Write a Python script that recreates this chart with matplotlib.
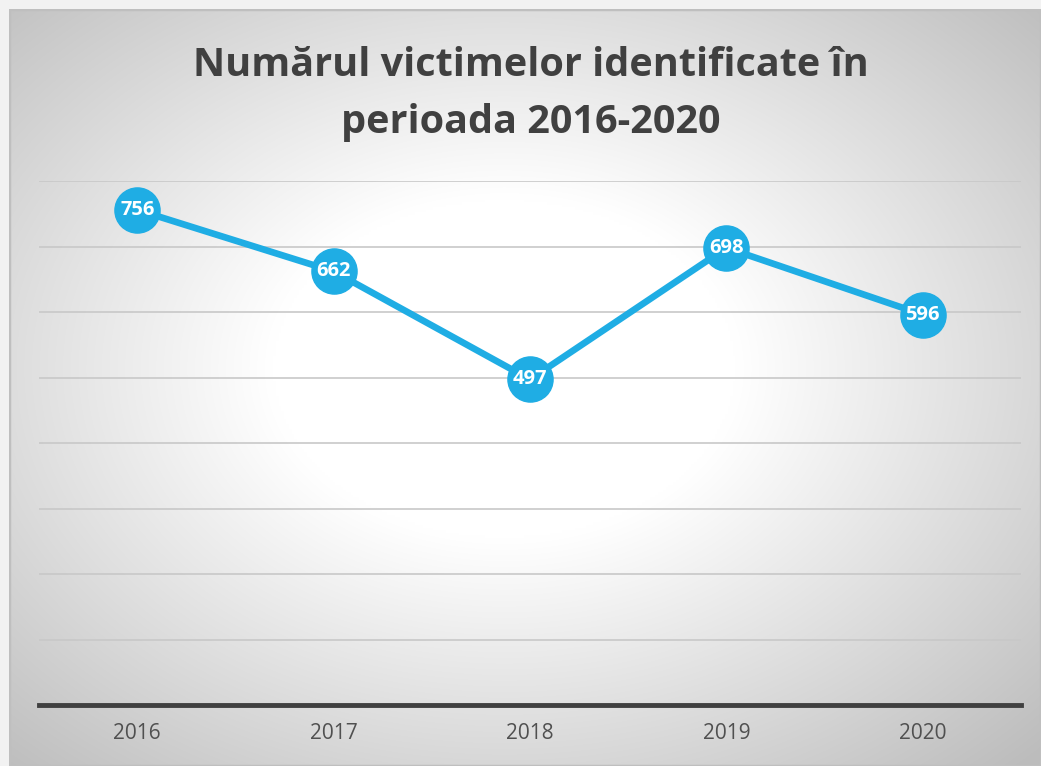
import numpy as np
from matplotlib import pyplot as plt

# data
years = ['2016', '2017', '2018', '2019', '2020']
victims = [756, 662, 497, 698, 596]
title = 'Numărul victimelor identificate în\nperioada 2016-2020'

plt.rcParams['font.family'] = ['Open Sans', 'DejaVu Sans']

fig = plt.figure(figsize=(10.41, 7.66), dpi=100)
fig.patch.set_facecolor('#f2f2f2')

# chart area with radial gradient background
W, H = 1041, 766
x0, y0 = 9, 9
bg = fig.add_axes([x0 / W, 0, (W - x0) / W, (H - y0) / H])
nx, ny = 400, 300
xx, yy = np.meshgrid(np.linspace(-1, 1, nx), np.linspace(-1, 1, ny))
r = np.sqrt(((xx + 0.04) / 1.0) ** 2 + ((yy + 0.05) / 1.0) ** 2)
r = np.clip(r, 0, 1.45)
g = np.where(r < 0.45, 1.0, 1.0 - (r - 0.45) / 1.0 * 0.26)
img = np.dstack([g, g, g])
bg.imshow(img, aspect='auto', extent=[0, 1, 0, 1], interpolation='bilinear')
bg.set_xlim(0, 1)
bg.set_ylim(0, 1)
bg.axis('off')
bg.add_patch(plt.Rectangle((0, 0), 1, 1, fill=False, edgecolor='#bfbfbf', lw=2.5,
                           transform=bg.transAxes))

# plot axes
left, right = 39, 1021
bottom, top = 705, 181
ax = fig.add_axes([left / W, 1 - bottom / H, (right - left) / W, (bottom - top) / H])
ax.patch.set_alpha(0)
x = np.arange(len(years))
ax.plot(x, victims, color='#1fade4', lw=4.8, marker='o', markersize=32.5,
        markerfacecolor='#1fade4', markeredgecolor='#1fade4', zorder=3,
        solid_capstyle='round')
for xi, v in zip(x, victims):
    ax.text(xi, v, str(v), color='white', fontsize=14.5, fontweight='bold',
            ha='center', va='center', zorder=4)

ax.set_xlim(-0.5, len(years) - 0.5)
ax.set_ylim(0, 800)
ax.set_yticks(range(100, 801, 100))
ax.yaxis.grid(True, color='#c8c8c8', lw=1.2)
ax.set_axisbelow(True)
ax.tick_params(axis='y', left=False, labelleft=False)
ax.set_xticks(x)
ax.set_xticklabels(years, fontsize=15, color='#505050')
ax.tick_params(axis='x', length=0, pad=13)
for s in ['top', 'right', 'left']:
    ax.spines[s].set_visible(False)
ax.spines['bottom'].set_color('#404040')
ax.spines['bottom'].set_linewidth(3.5)

fig.text(531 / W, 1 - 94 / H, title, ha='center', va='center', fontsize=28.5,
         fontweight='bold', color='#404040', linespacing=1.6)

fig.savefig('out.png', dpi=100, facecolor=fig.get_facecolor())
